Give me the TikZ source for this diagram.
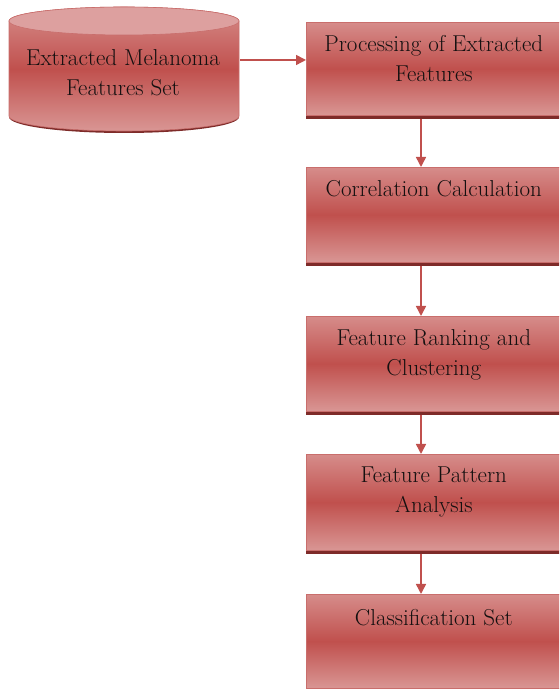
\documentclass[tikz,border=0pt]{standalone}
\usetikzlibrary{arrows.meta,calc}
\definecolor{boxlight}{HTML}{D99694}
\definecolor{boxtop}{HTML}{D68C8A}
\definecolor{boxdark}{HTML}{C0504D}
\definecolor{boxedge}{HTML}{C96E6C}
\definecolor{shadowc}{HTML}{7E2B29}
\definecolor{arrowc}{HTML}{C0504D}
\definecolor{capc}{HTML}{DDA09F}
\definecolor{txtc}{HTML}{141010}
\begin{document}
\begin{tikzpicture}[x=1pt,y=1pt,
  stepbox/.style={draw=boxedge, line width=0.6pt, top color=boxtop, bottom color=boxlight, middle color=boxdark,
    minimum width=255pt, anchor=north west, inner sep=0pt},
  steptext/.style={anchor=north, inner sep=0pt, align=center, text=txtc,
    font=\fontsize{23}{30}\selectfont},
  arr/.style={draw=arrowc, line width=1.5pt, -{Triangle[width=10pt,length=10pt]}}]
\useasboundingbox (0,0) rectangle (559,690);
\clip (0,0) rectangle (559,690);
% cylinder
\fill[shadowc] (9,573) arc[start angle=180, end angle=360, x radius=115, y radius=16] -- cycle;
\shade[top color=boxtop, bottom color=boxlight, middle color=boxdark, draw=boxedge, line width=0.6pt]
  (9,669) -- (9,574) arc[start angle=180, end angle=360, x radius=115, y radius=15] -- (239,669)
  arc[start angle=0, end angle=180, x radius=115, y radius=14] -- cycle;
\fill[capc, draw=boxedge, line width=0.6pt] (124,669) ellipse [x radius=115, y radius=14];
\node[minimum width=231pt, minimum height=112pt, inner sep=0pt] (cyl) at (124.5,613) {};
\node[steptext] (cyltext) at (123,641) {Extracted Melanoma\\Features Set};
% boxes
\node[stepbox, minimum height=93pt] (b1) at (306,668) {};
\node[stepbox, minimum height=95pt] (b2) at (306,523) {};
\node[stepbox, minimum height=95pt] (b3) at (306,374) {};
\node[stepbox, minimum height=96pt] (b4) at (306,236) {};
\node[stepbox, minimum height=94pt] (b5) at (306,96) {};
\foreach \b in {b1,b2,b3,b4}{
  \fill[shadowc] (\b.south west) rectangle ([yshift=-3pt]\b.south east);
}
\node[steptext] (t1) at ([yshift=-13pt]b1.north) {Processing of Extracted\\Features};
\node[steptext] (t2) at ([yshift=-13pt]b2.north) {Correlation Calculation};
\node[steptext] (t3) at ([yshift=-13pt]b3.north) {Feature Ranking and\\Clustering};
\node[steptext] (t4) at ([yshift=-13pt]b4.north) {Feature Pattern\\Analysis};
\node[steptext] (t5) at ([yshift=-15pt]b5.north) {Classification Set};
% arrows
\draw[arr] (cyl.east |- 0,630) -- (b1.west |- 0,630);
\draw[arr] ([yshift=-3pt]b1.south -| 421,0) -- (b2.north -| 421,0);
\draw[arr] ([yshift=-3pt]b2.south -| 421,0) -- (b3.north -| 421,0);
\draw[arr] ([yshift=-3pt]b3.south -| 421,0) -- (b4.north -| 421,0);
\draw[arr] ([yshift=-3pt]b4.south -| 421,0) -- (b5.north -| 421,0);
\end{tikzpicture}
\end{document}
